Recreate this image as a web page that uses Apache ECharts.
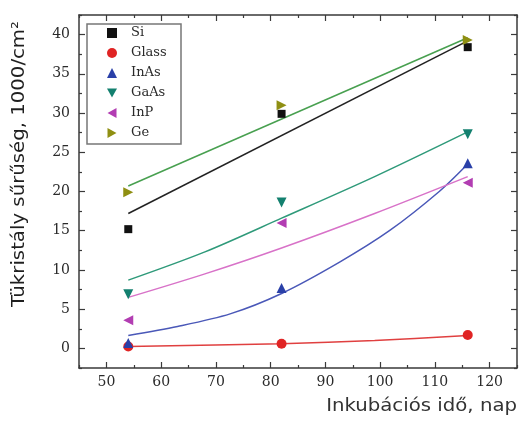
<!DOCTYPE html>
<html lang="hu">
<head>
<meta charset="UTF-8">
<title>Tükristály sűrűség</title>
<script src="https://cdn.jsdelivr.net/npm/echarts@6/dist/echarts.min.js"></script>
<style>
  html, body { margin: 0; padding: 0; background: #fff; }
  #main { width: 520px; height: 427px; }
</style>
</head>
<body>
<div id="main"></div>
<script type="text/javascript">
    // mérési napok és pontok
    var days = [54, 82, 116];
    var si = [15.2, 29.9, 38.4];
    var glass = [0.25, 0.6, 1.7];
    var inas = [0.7, 7.7, 23.6];
    var gaas = [6.9, 18.6, 27.3];
    var inp = [3.6, 16.0, 21.1];
    var ge = [19.9, 31.0, 39.3];

    // illesztett görbék (leolvasva)
    var siFit = [[54, 17.2], [116, 39.2]];
    var glassFit = [[54, 0.25], [82, 0.6], [99, 1.0], [116, 1.65]];
    var inasFit = [[54, 1.65], [63, 2.8], [72.6, 4.4], [82, 7.0], [92.6, 11.0], [101.7, 15.0], [110.8, 20.0], [116, 23.5]];
    var gaasFit = [[54, 8.7], [68, 12.3], [82, 16.6], [99, 21.9], [116, 27.6]];
    var inpFit = [[54, 6.5], [68, 9.5], [82, 12.8], [99, 17.2], [116, 21.9]];
    var geFit = [[54, 20.7], [116, 39.6]];

    // tengely jelölések
    var xMajor = [50, 60, 70, 80, 90, 100, 110, 120];
    var xMinor = [45, 55, 65, 75, 85, 95, 105, 115, 125];
    var yMajor = [0, 5, 10, 15, 20, 25, 30, 35, 40];
    var yMinor = [-2.5, 2.5, 7.5, 12.5, 17.5, 22.5, 27.5, 32.5, 37.5, 42.5];

    var names = ['Si', 'Glass', 'InAs', 'GaAs', 'InP', 'Ge'];
    var points = [si, glass, inas, gaas, inp, ge];
    var fits = [siFit, glassFit, inasFit, gaasFit, inpFit, geFit];
    var symbols = ['rect', 'circle', 'triangle', 'triangle', 'triangle', 'triangle'];
    var rotates = [0, 0, 0, 180, 90, -90];
    // jelmagyarázat ikonjai (forgatott háromszögek)
    var legendIcons = ['rect', 'circle', 'triangle',
        'path://M0,0L10,0L5,9Z', 'path://M9,0L9,10L0,5Z', 'path://M0,0L0,10L9,5Z'];
    var markColors = ['#111111', '#e02424', '#2a40a8', '#13806f', '#b23db2', '#8f8f12'];
    var lineColors = ['#222222', '#e04040', '#4a58b8', '#2f9a7a', '#d872c8', '#48a050'];

    var frameColor = '#3a3a3a';
    var tickFont = 'DejaVu Serif';

    function xAx(pos, ticks, len, line, labels) {
        return {
            type: 'value', min: 45, max: 125, position: pos,
            axisLine: { show: line, onZero: false, lineStyle: { color: frameColor, width: 1.5 } },
            axisTick: { inside: true, length: len, customValues: ticks, lineStyle: { color: frameColor, width: 1.2 } },
            axisLabel: labels ? {
                customValues: xMajor, margin: 7, color: '#2a2a2a',
                fontFamily: tickFont, fontSize: 14
            } : { show: false },
            splitLine: { show: false }
        };
    }

    function yAx(pos, ticks, len, line, labels) {
        return {
            type: 'value', min: -2.5, max: 42.5, position: pos,
            axisLine: { show: line, onZero: false, lineStyle: { color: frameColor, width: 1.5 } },
            axisTick: { inside: true, length: len, customValues: ticks, lineStyle: { color: frameColor, width: 1.2 } },
            axisLabel: labels ? {
                customValues: yMajor, margin: 9, color: '#2a2a2a',
                fontFamily: tickFont, fontSize: 14
            } : { show: false },
            splitLine: { show: false }
        };
    }

    var series = [];
    for (var i = 0; i < names.length; i++) {
        series.push({
            name: names[i] + ' fit',
            type: 'line',
            data: fits[i],
            smooth: fits[i].length > 2 ? 0.3 : false,
            showSymbol: false,
            silent: true,
            z: 2,
            lineStyle: { color: lineColors[i], width: 1.5 }
        });
    }
    for (var j = 0; j < names.length; j++) {
        var pts = [];
        for (var k = 0; k < days.length; k++) pts.push([days[k], points[j][k]]);
        series.push({
            name: names[j],
            type: 'scatter',
            data: pts,
            symbol: symbols[j],
            symbolRotate: rotates[j],
            symbolSize: j === 0 ? 8 : 10,
            z: 3,
            itemStyle: { color: markColors[j], opacity: 1 }
        });
    }

    var legendData = [];
    for (var m = 0; m < names.length; m++) {
        legendData.push({ name: names[m], icon: legendIcons[m] });
    }

    var myChart = echarts.init(document.getElementById('main'));
    var option = {
        animation: false,
        backgroundColor: '#fff',
        grid: { left: 79, right: 3, top: 15, bottom: 59 },
        xAxis: [
            xAx('bottom', xMajor, 6, true, true),
            xAx('top', xMajor, 6, true, false),
            xAx('bottom', xMinor, 3, false, false),
            xAx('top', xMinor, 3, false, false)
        ],
        yAxis: [
            yAx('left', yMajor, 6, true, true),
            yAx('right', yMajor, 6, true, false),
            yAx('left', yMinor, 3, false, false),
            yAx('right', yMinor, 3, false, false)
        ],
        legend: {
            data: legendData,
            orient: 'vertical',
            left: 107, top: 26,
            itemWidth: 10, itemHeight: 10,
            itemGap: 6,
            padding: 0,
            textStyle: {
                fontFamily: tickFont, fontSize: 13, color: '#2a2a2a',
                lineHeight: 14, padding: [0, 0, 0, 9]
            }
        },
        graphic: [
            {
                type: 'rect',
                shape: { x: 87, y: 24, width: 94, height: 120 },
                style: { fill: 'none', stroke: '#777', lineWidth: 1.5 },
                z: 1
            },
            {
                type: 'text',
                x: 20, y: 164,
                rotation: Math.PI / 2,
                scaleX: 1.16,
                style: {
                    text: 'Tükristály sűrűség, 1000/cm²',
                    fontFamily: 'DejaVu Sans', fontSize: 17, fill: '#1f1f1f',
                    align: 'center', verticalAlign: 'middle'
                }
            },
            {
                type: 'text',
                x: 517, y: 407,
                scaleX: 1.16,
                style: {
                    text: 'Inkubációs idő, nap',
                    fontFamily: 'DejaVu Sans', fontSize: 17, fill: '#333',
                    align: 'right', verticalAlign: 'middle'
                }
            }
        ],
        series: series
    };
    myChart.setOption(option);
</script>
</body>
</html>
